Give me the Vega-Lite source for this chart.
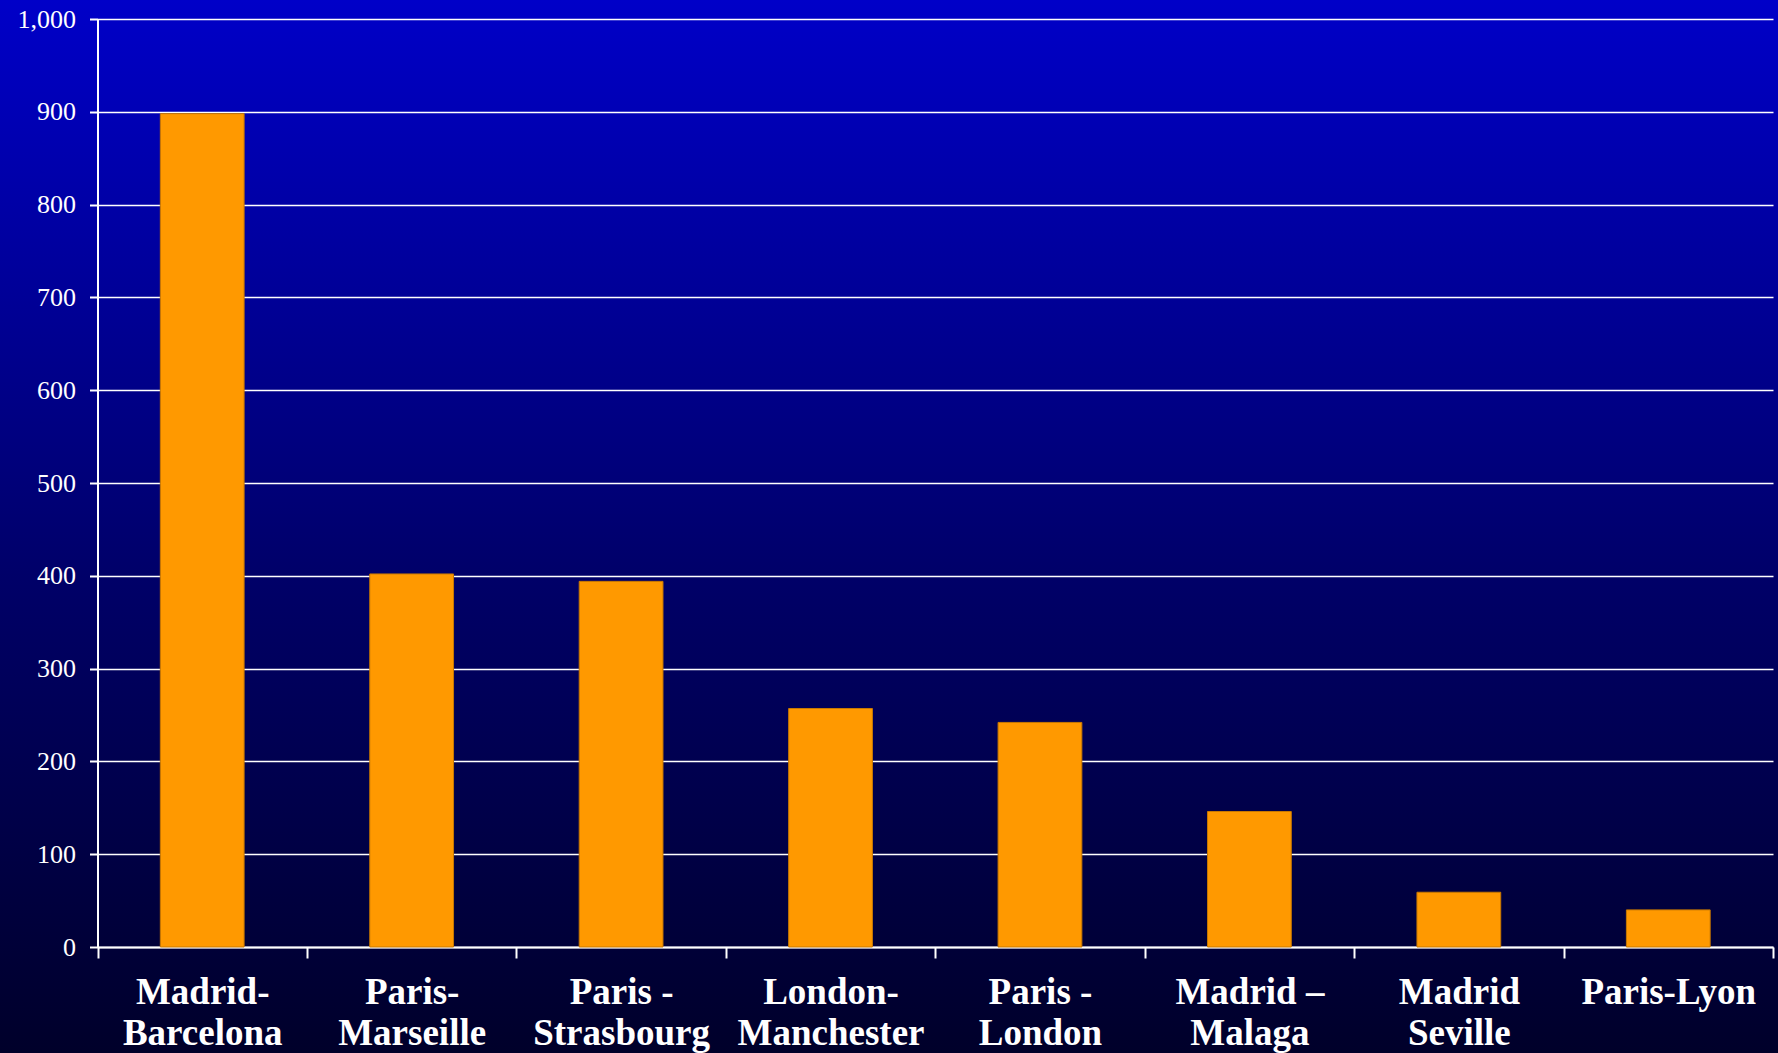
{
  "$schema": "https://vega.github.io/schema/vega-lite/v6.json",
  "width": 1778,
  "height": 1053,
  "autosize": {"type": "none"},
  "padding": 0,
  "background": "#000028",
  "config": {
    "view": {
      "stroke": null,
      "fill": {
        "gradient": "linear",
        "x1": 0, "y1": 0, "x2": 0, "y2": 1,
        "stops": [
          {"offset": 0, "color": "#0000C8"},
          {"offset": 0.55, "color": "#000068"},
          {"offset": 1, "color": "#00002A"}
        ]
      }
    }
  },
  "data": {
    "values": [
      {"route": "Madrid-|Barcelona", "value": 898},
      {"route": "Paris-|Marseille", "value": 402},
      {"route": "Paris -|Strasbourg", "value": 394},
      {"route": "London-|Manchester", "value": 257},
      {"route": "Paris -|London", "value": 242},
      {"route": "Madrid –|Malaga", "value": 146},
      {"route": "Madrid|Seville", "value": 59},
      {"route": "Paris-Lyon", "value": 40}
    ]
  },
  "mark": {"type": "bar", "color": "#FF9900", "stroke": "#C87800", "strokeWidth": 1, "width": {"band": 0.4}},
  "encoding": {
    "x": {
      "field": "route",
      "type": "nominal",
      "sort": null,
      "scale": {"range": [97.5, 1773], "paddingInner": 0, "paddingOuter": 0},
      "axis": {
        "title": null,
        "orient": "bottom",
        "offset": -106,
        "labelAngle": 0,
        "labelExpr": "split(datum.label, '|')",
        "labelFont": "Liberation Serif",
        "labelFontWeight": "bold",
        "labelFontSize": 37,
        "labelLineHeight": 41,
        "labelColor": "#FFFFFF",
        "labelBaseline": "top",
        "labelPadding": 16,
        "labelLimit": 400,
        "tickBand": "extent",
        "tickExtra": true,
        "tickSize": 11,
        "tickColor": "#FFFFFF",
        "tickWidth": 2,
        "domainColor": "#FFFFFF",
        "domainWidth": 2,
        "grid": false
      }
    },
    "y": {
      "field": "value",
      "type": "quantitative",
      "scale": {"domain": [0, 1000], "nice": false, "range": [947, 19]},
      "axis": {
        "title": null,
        "orient": "left",
        "offset": -97.5,
        "values": [0, 100, 200, 300, 400, 500, 600, 700, 800, 900, 1000],
        "format": ",d",
        "labelFont": "Liberation Serif",
        "labelFontSize": 26,
        "labelColor": "#FFFFFF",
        "labelPadding": 14,
        "tickSize": 8,
        "tickColor": "#FFFFFF",
        "tickWidth": 2,
        "domainColor": "#FFFFFF",
        "domainWidth": 2,
        "grid": true,
        "gridColor": "#FFFFFF",
        "gridWidth": 1.5,
        "gridOpacity": 1
      }
    }
  }
}
